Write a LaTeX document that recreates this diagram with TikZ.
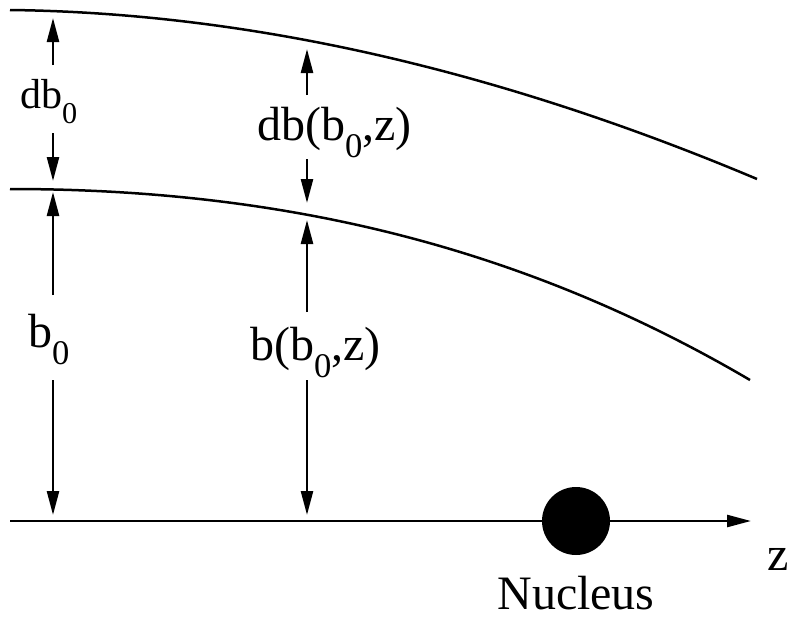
\documentclass[tikz,border=0pt]{standalone}
\usepackage{fontspec}
\usepackage{graphicx}
\setmainfont{Liberation Serif}
\newfontfamily\tmsfont{Liberation Serif}
\usetikzlibrary{arrows.meta}
\newcommand\lowsub[1]{\raisebox{-0.36em}{\scalebox{0.72}{#1}}}
\tikzset{
  line/.style={line width=2.5pt},
  arr/.style={line width=2.5pt,-{Triangle[length=24pt,width=12pt]}},
  lbl/.style={inner sep=0pt,font=\tmsfont\fontsize{48}{48}\selectfont},
  smalllbl/.style={inner sep=0pt,font=\tmsfont\fontsize{42}{42}\selectfont},
}
\begin{document}
\begin{tikzpicture}[x=1pt,y=-1pt]
\useasboundingbox (0,0) rectangle (787,616);
% curves
\coordinate (t0) at (10,10);  \coordinate (t3) at (757,179);
\coordinate (c0) at (10,189); \coordinate (c3) at (750,380);
\draw[line] (t0) .. controls (260,13) and (510,75) .. (t3);
\draw[line] (c0) .. controls (280,189) and (520,245) .. (c3);
% axis
\coordinate (axl) at (10,521);
\coordinate (axr) at (751,521);
\draw[arr] (axl) -- (axr);
\node[circle,fill=black,minimum size=68pt,inner sep=0pt] (nuc) at (576,521) {};
\node[lbl,anchor=base] (nuclbl) at (576,609) {Nucleus};
\node[lbl,anchor=base west] (zlbl) at (767,570) {z};
% left column
\coordinate (a1s) at (53,65);  \coordinate (a1e) at (53,18);
\coordinate (a2s) at (53,133); \coordinate (a2e) at (53,181);
\coordinate (a3s) at (53,295); \coordinate (a3e) at (53,192);
\coordinate (a4s) at (53,380); \coordinate (a4e) at (53,515);
\draw[arr] (a1s) -- (a1e);
\draw[arr] (a2s) -- (a2e);
\draw[arr] (a3s) -- (a3e);
\draw[arr] (a4s) -- (a4e);
\node[smalllbl,anchor=base west] (db0) at (20,108) {db\lowsub{0}};
\node[lbl,anchor=base west] (b0) at (28,347) {b\lowsub{0}};
% middle column
\coordinate (m1s) at (307,95);  \coordinate (m1e) at (307,49);
\coordinate (m2s) at (307,159); \coordinate (m2e) at (307,203);
\coordinate (m3s) at (307,312); \coordinate (m3e) at (307,220);
\coordinate (m4s) at (307,380); \coordinate (m4e) at (307,515);
\draw[arr] (m1s) -- (m1e);
\draw[arr] (m2s) -- (m2e);
\draw[arr] (m3s) -- (m3e);
\draw[arr] (m4s) -- (m4e);
\node[lbl,anchor=base west] (dbz) at (257,140) {db(b\lowsub{0},z)};
\node[lbl,anchor=base west] (bz) at (250,360) {b(b\lowsub{0},z)};
\end{tikzpicture}
\end{document}
